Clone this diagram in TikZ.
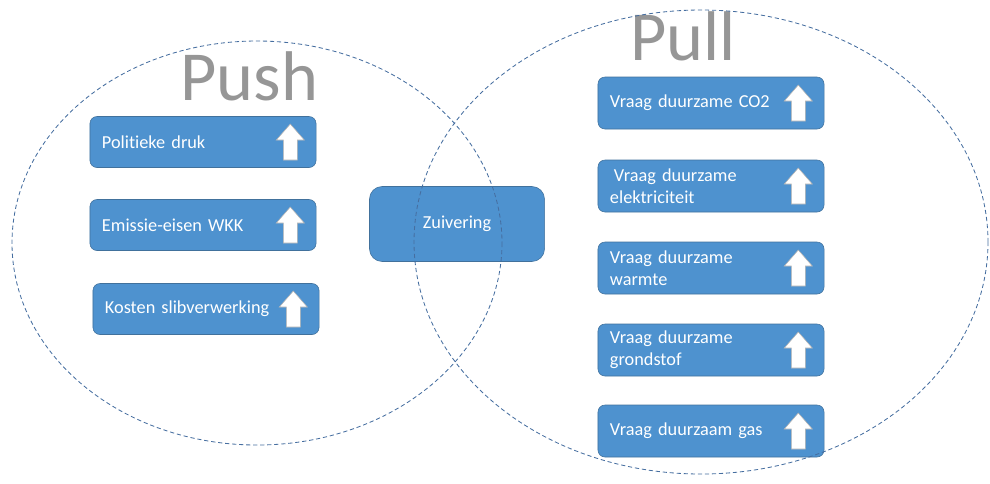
\documentclass[tikz,border=0pt]{standalone}
\usepackage{fontspec}
\setmainfont{Carlito}[Ligatures=NoCommon,WordSpace=0.8]
\definecolor{vakblauw}{RGB}{78,146,207}
\definecolor{randblauw}{RGB}{65,113,156}
\definecolor{lijnblauw}{RGB}{70,110,160}
\definecolor{kopgrijs}{RGB}{150,150,150}
\tikzset{
  drukbox/.style={draw=randblauw,fill=vakblauw,rounded corners=5pt,text=white,
    minimum width=5.65cm,minimum height=1.3cm,inner xsep=0.3cm,
    text width=5.05cm,align=left,font=\fontsize{13}{15.6}\selectfont},
  kop/.style={text=kopgrijs,font=\fontsize{50}{50}\selectfont,anchor=base west,inner sep=0pt},
  kring/.style={draw=lijnblauw,line width=0.6pt,dash pattern=on 3pt off 2pt},
  pijl/.pic={
    \draw[draw=gray!60,fill=white,line width=0.4pt]
      (-7,18) -- (7,18) -- (7,-2) -- (14,-2) -- (0,-18) -- (-14,-2) -- (-7,-2) -- cycle;
  }
}
\begin{document}
\begin{tikzpicture}[x=0.025cm,y=-0.025cm]
            \useasboundingbox (0,0) rectangle (990,483);
            % koppen
            \node[kop] (push) at (180,100) {Push};
            \node[kop] (pull) at (630,60) {Pull};
            % push-kant
            \node[drukbox,minimum height=1.275cm] (politiek) at (203,142) {Politieke druk};
            \node[drukbox,minimum height=1.275cm] (emissie) at (203,225) {Emissie-eisen WKK};
            \node[drukbox,minimum height=1.275cm] (kosten) at (206,309) {Kosten slibverwerking};
            % midden
            \node[drukbox,minimum width=4.375cm,minimum height=1.875cm,text width=3.775cm,
                  align=center,rounded corners=9pt] (zuivering) at (457,224) {Zuivering};
            % pull-kant
            \node[drukbox] (co2) at (711,103) {Vraag duurzame CO2};
            \node[drukbox] (elek) at (711,186) {\hspace*{0.1cm}Vraag duurzame\\elektriciteit};
            \node[drukbox] (warmte) at (711,268) {Vraag duurzame\\warmte};
            \node[drukbox] (grondstof) at (711,350) {Vraag duurzame\\grondstof};
            \node[drukbox] (gas) at (711,431) {Vraag duurzaam gas};
            % pijlen
            \foreach \n in {politiek,emissie,kosten,co2,elek,warmte,grondstof,gas}
              \pic at ([xshift=-0.65cm]\n.east) {pijl};
            % cirkels
            \draw[kring] (257,243) ellipse [x radius=245,y radius=202];
            \draw[kring] (701,242) ellipse [x radius=287,y radius=232];
        \end{tikzpicture}
\end{document}
